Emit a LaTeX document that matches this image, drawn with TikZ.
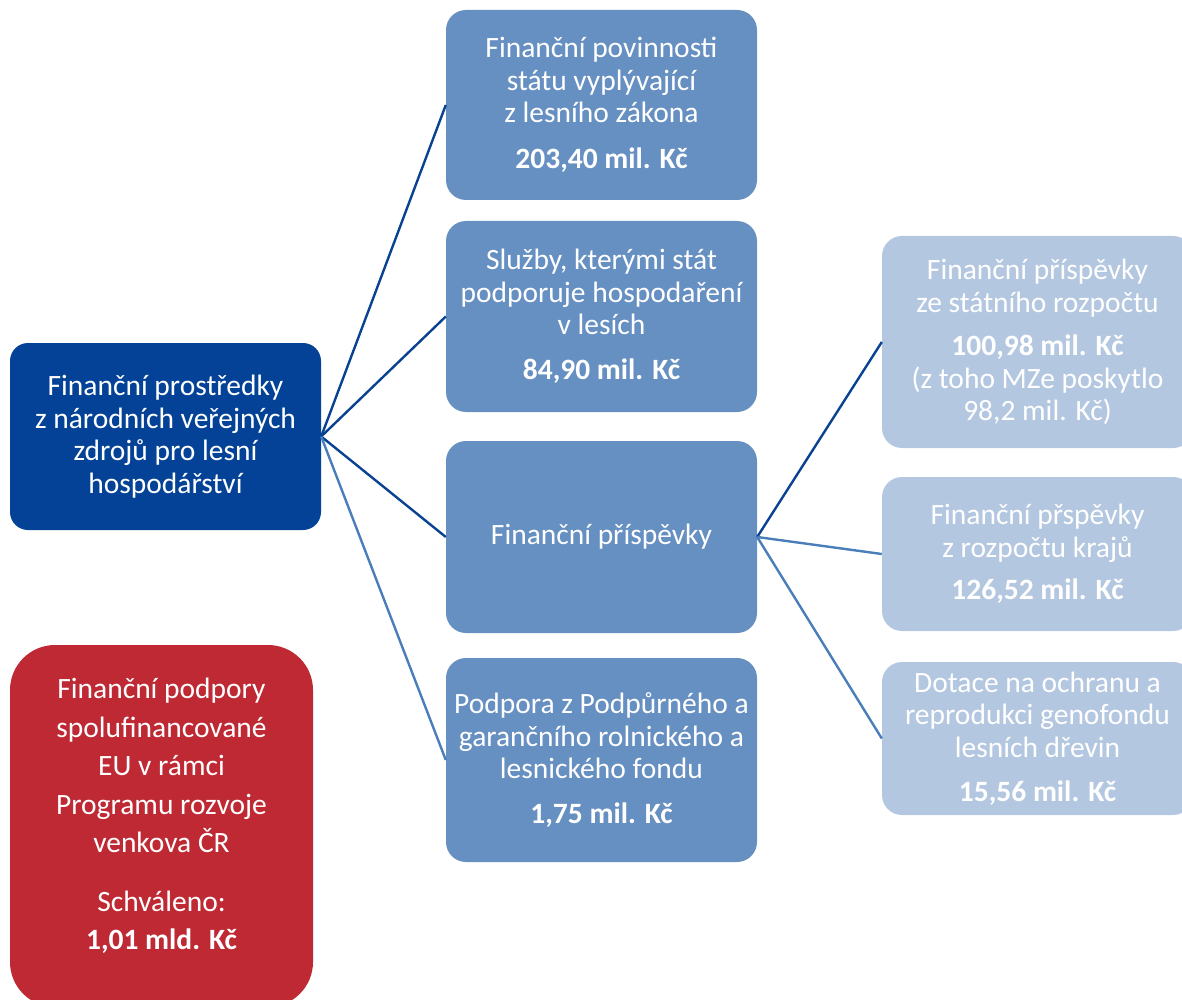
\documentclass[tikz,border=0pt]{standalone}
\usepackage{fontspec}
\setmainfont{Carlito}
\definecolor{rootc}{RGB}{3,66,150}
\definecolor{midc}{RGB}{102,143,194}
\definecolor{rightc}{RGB}{180,199,224}
\definecolor{redc}{RGB}{190,41,52}
\definecolor{darkline}{RGB}{10,66,146}
\definecolor{lightline}{RGB}{74,126,187}
\begin{document}
\begin{tikzpicture}[x=1pt,y=-1pt,
  box/.style={rounded corners=20pt, inner sep=0pt, text=white, align=center,
    font=\fontsize{29.5}{32.5}\selectfont, minimum width=311pt},
  midbox/.style={box, fill=midc},
  rightbox/.style={box, fill=rightc},
  dline/.style={draw=darkline, line width=2.4pt},
  lline/.style={draw=lightline, line width=2.4pt}]
\useasboundingbox (0,0) rectangle (1182,1000);
\clip (0,0) rectangle (1182,1000);
% root
\node[box, fill=rootc, rounded corners=18pt, minimum height=187pt] (root) at (165.5,436.5)
  {Finanční prostředky\\z národních veřejných\\zdrojů pro lesní\\hospodářství};
% middle column
\node[midbox, minimum height=190pt] (m1) at (601.5,105)
  {Finanční povinnosti\\státu vyplývající\\z lesního zákona\\[13pt]\textbf{203,40 mil. Kč}};
\node[midbox, minimum height=191pt] (m2) at (601.5,316.5)
  {Služby, kterými stát\\podporuje hospodaření\\v lesích\\[12pt]\textbf{84,90 mil. Kč}};
\node[midbox, minimum height=192pt] (m3) at (601.5,537)
  {Finanční příspěvky};
\node[midbox, minimum height=204pt] (m4) at (601.5,760)
  {Podpora z Podpůrného a\\garančního rolnického a\\lesnického fondu\\[12pt]\textbf{1,75 mil. Kč}};
% right column
\node[rightbox, minimum height=212pt] (r1) at (1037.5,342)
  {Finanční příspěvky\\ze státního rozpočtu\\[11pt]\textbf{100,98 mil. Kč}\\(z toho MZe poskytlo\\98,2 mil. Kč)};
\node[rightbox, minimum height=154pt] (r2) at (1037.5,554)
  {Finanční přspěvky\\z rozpočtu krajů\\[10pt]\textbf{126,52 mil. Kč}};
\node[rightbox, minimum height=153pt] (r3) at (1037.5,738.5)
  {Dotace na ochranu a\\reprodukci genofondu\\lesních dřevin\\[12pt]\textbf{15,56 mil. Kč}};
% red box
\node[box, fill=redc, rounded corners=45pt, minimum width=303pt, minimum height=362pt] (eu) at (161.5,826) {};
\node[text=white, align=center, inner sep=0pt, font=\fontsize{29.5}{38.5}\selectfont] (eutext) at (161.5,816)
  {Finanční podpory\\spolufinancované\\EU v rámci\\Programu rozvoje\\venkova ČR\\[20pt]Schváleno:\\\textbf{1,01 mld. Kč}};
% connectors
\draw[dline] (root.east) -- (m1.west);
\draw[dline] (root.east) -- (m2.west);
\draw[dline] (root.east) -- (m3.west);
\draw[lline] (root.east) -- (m4.west);
\draw[dline] (m3.east) -- (r1.west);
\draw[lline] (m3.east) -- (r2.west);
\draw[lline] (m3.east) -- (r3.west);
\end{tikzpicture}
\end{document}
